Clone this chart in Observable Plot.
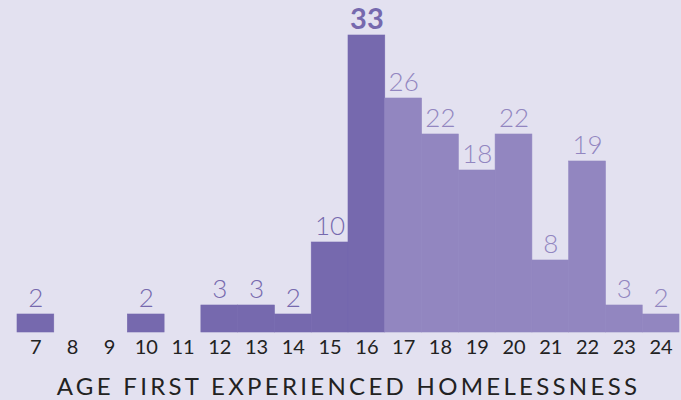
<!DOCTYPE html>
<html><head><meta charset="utf-8">
<script src="https://cdn.jsdelivr.net/npm/d3@7"></script>
<script src="https://cdn.jsdelivr.net/npm/@observablehq/plot@0.6"></script>
<style>
html,body{margin:0;padding:0;background:#e3e1f0;}
#chart svg{display:block;background:#e3e1f0;}
.xtitle text{letter-spacing:3.3px;}
</style></head>
<body><div id="chart"></div>
<script>
const ages = [7,8,9,10,11,12,13,14,15,16,17,18,19,20,21,22,23,24];
const counts = [2,0,0,2,0,3,3,2,10,33,26,22,18,22,8,19,3,2];
const groups = ["≤16","≤16","≤16","≤16","≤16","≤16","≤16","≤16","≤16","≤16",">16",">16",">16",">16",">16",">16",">16",">16"];
const xTitle = "AGE FIRST EXPERIENCED HOMELESSNESS";
const colorDark = "#7669ae", colorLight = "#9286c0";

const data = ages.map((a, i) => ({age: String(a), n: counts[i], g: groups[i]}));
const labeled = data.filter(d => d.n > 0);
const peak = d3.max(counts);

const chart = Plot.plot({
  width: 681, height: 400,
  marginLeft: 17, marginRight: 2, marginTop: 35, marginBottom: 68,
  style: {fontFamily: "Lato, sans-serif", background: "#e3e1f0"},
  x: {type: "band", domain: ages.map(String), padding: 0, round: false, label: null},
  y: {domain: [0, peak], axis: null},
  color: {domain: ["≤16", ">16"], range: [colorDark, colorLight]},
  marks: [
    Plot.barY(data, {x: "age", y: "n", fill: "g", stroke: "g", strokeWidth: 0.6}),
    Plot.text(labeled.filter(d => d.n !== peak), {x: "age", y: "n", text: d => String(d.n), fill: d => d.g === "≤16" ? colorDark : colorLight, dy: -16, fontSize: 26, fontWeight: 300}),
    Plot.text(labeled.filter(d => d.n === peak), {x: "age", y: "n", text: d => String(d.n), fill: colorDark, dy: -16, fontSize: 29, fontWeight: 700}),
    Plot.axisX({tickSize: 0, tickPadding: 7, fontSize: 20, color: "#222", label: null}),
    Plot.text([xTitle], {frameAnchor: "bottom", dy: 62, fontSize: 24, fill: "#222", fontWeight: 400, className: "xtitle"})
  ]
});
document.getElementById("chart").append(chart);
</script></body></html>
